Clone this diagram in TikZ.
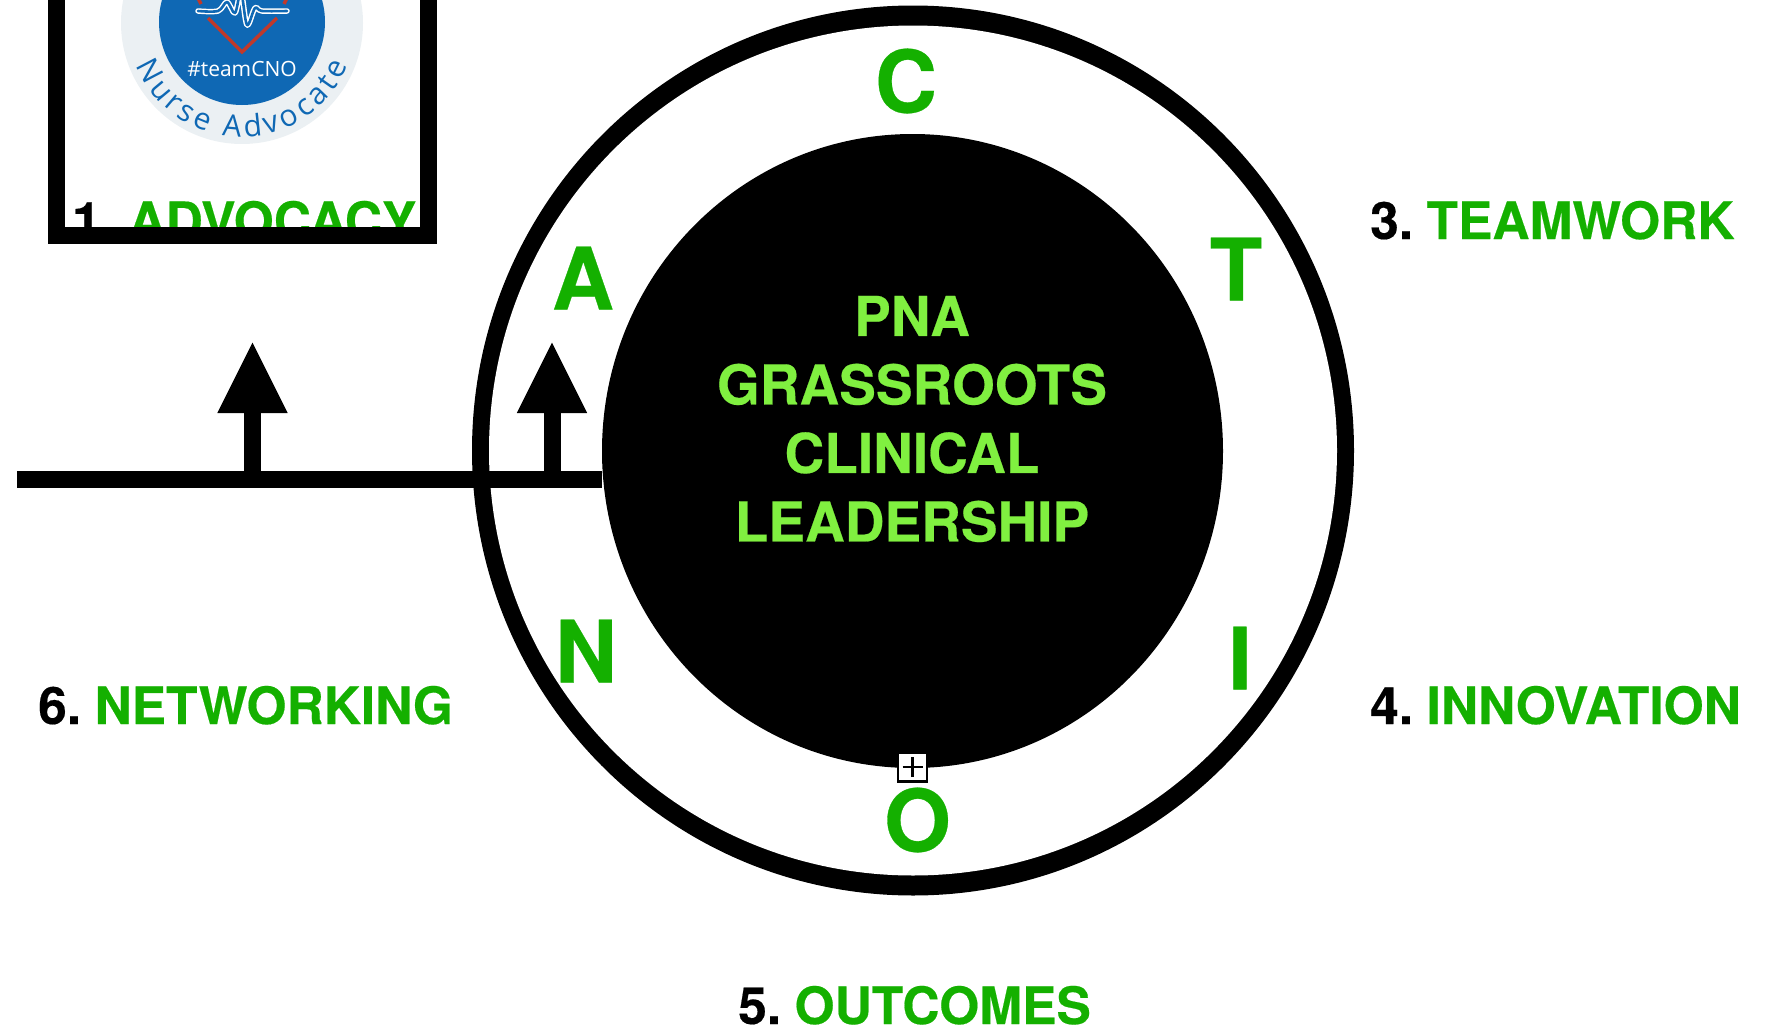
\documentclass[tikz,border=0pt]{standalone}
\usepackage{fontspec}
\setmainfont[BoldFeatures={FakeBold=0.35}]{TeX Gyre Heros}
\newfontfamily\badgefont{Open Sans}
\usetikzlibrary{arrows.meta,shapes.geometric,decorations.text}
\definecolor{pnagreen}{HTML}{14B000}
\definecolor{pnalime}{HTML}{80F040}
\definecolor{badgeblue}{HTML}{0F68B4}
\definecolor{badgepale}{HTML}{EBF0F3}
\definecolor{badgered}{HTML}{C0392B}
\tikzset{
    letter/.style={text=pnagreen, font=\fontsize{86}{86}\selectfont\bfseries, inner sep=0},
    topic/.style={anchor=base west, font=\fontsize{51.5}{52}\selectfont\bfseries, inner sep=0},
    spine/.style={black, line width=17},
    pointer/.style={spine, -{Triangle[length=72,width=65]}},
}
\newcommand{\topicText}[2]{#1.\hspace{0.26em}\textcolor{pnagreen}{#2}}
\newcommand{\pulsePath}{plot [smooth, tension=0.55] coordinates {(198,11) (218,11) (227,2) (235,13) (241,-8) (247,25) (255,8) (262,11) (287,11)}}

\begin{document}
\begin{tikzpicture}[x=1pt, y=-1pt]
    \useasboundingbox (0,0) rectangle (1770,1028);

    % badge
    \node [circle, fill=badgepale, minimum size=242, inner sep=0] (badge) at (242,23) {};
    \node [circle, fill=badgeblue, minimum size=166, inner sep=0] (badgecore) at (242,22) {};
    \draw [badgered, line width=3.5] (208,18) -- (242,52) -- (277,18);
    \draw [badgered, line width=3.5] (198,-2) -- (201,4);
    \draw [badgered, line width=3.5] (287,-2) -- (284,4);
    \draw [white, line width=5.5, line join=round, line cap=round] \pulsePath;
    \draw [badgeblue, line width=2.6, line join=round, line cap=round] \pulsePath;
    \node [text=white, font=\badgefont\fontsize{21}{21}\selectfont, inner sep=0] (hashtag) at (242,69) {\#teamCNO};
    \path [decorate, decoration={text along path, text align=fit to path, text={|\badgefont\fontsize{30}{30}\selectfont\color{badgeblue}|Nurse Advocate}}]
        (242,23) ++(158:114) arc (158:22:114);

    % advocacy box
    \node [topic] (advocacy) at (72,239) {\topicText{1}{ADVOCACY}};
    \node [draw=black, line width=17, outer sep=0, minimum width=372, minimum height=275] (advbox) at (242.5,97.5) {};

    % circle
    \node [ellipse, fill=black, outer sep=0, minimum width=882, minimum height=890, inner sep=0] (ring) at (913,450.5) {};
    \node [ellipse, fill=white, outer sep=0, minimum width=848, minimum height=850, inner sep=0] (ringhole) at (913,450.5) {};
    \node [ellipse, fill=black, outer sep=0, minimum width=621, minimum height=634, inner sep=0] (core) at (912.5,451) {};
    \node [align=center, text=pnalime, font=\fontsize{55}{68.5}\selectfont\bfseries, inner sep=0] (title) at (912,419) {PNA\\GRASSROOTS\\CLINICAL\\LEADERSHIP};

    \node [letter] (c) at (906,81)  {C};
    \node [letter] (a) at (583,278) {A};
    \node [letter] (t) at (1236,269) {T};
    \node [letter] (n) at (586,651) {N};
    \node [letter] (i) at (1240,658) {I};
    \node [letter] (o) at (917.5,820) {O};

    % bar and arrows
    \coordinate (barstart) at (17,479);
    \coordinate (barend) at (602,479);
    \coordinate (leftfoot) at (252.5,479);
    \coordinate (lefttip) at (252.5,341);
    \coordinate (rightfoot) at (552,479);
    \coordinate (righttip) at (552,341);
    \draw [spine] (barstart) -- (barend);
    \draw [pointer] (leftfoot) -- (lefttip);
    \draw [pointer] (rightfoot) -- (righttip);

    \node [draw=black, fill=white, line width=2.5, outer sep=0, inner sep=0, minimum size=29] (plusbox) at (912.5,767) {};
    \draw [black, line width=2.2] ([xshift=-10]plusbox.center) -- ([xshift=10]plusbox.center);
    \draw [black, line width=2.2] ([yshift=-10]plusbox.center) -- ([yshift=10]plusbox.center);

    % labels
    \node [topic] (teamwork)   at (1370,239) {\topicText{3}{TEAMWORK}};
    \node [topic] (innovation) at (1370,724) {\topicText{4}{INNOVATION}};
    \node [topic] (outcomes)   at (738,1024) {\topicText{5}{OUTCOMES}};
    \node [topic] (networking) at (38,724)   {\topicText{6}{NETWORKING}};
\end{tikzpicture}
\end{document}
